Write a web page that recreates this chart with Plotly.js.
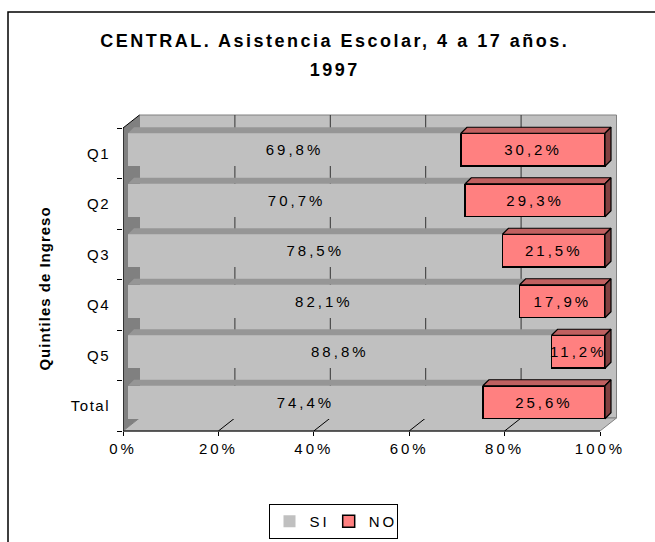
<!DOCTYPE html>
<html>
<head>
<meta charset="utf-8">
<script src="https://cdn.plot.ly/plotly-3.0.1.min.js"></script>
<style>
  html, body { margin: 0; padding: 0; background: #fff; }
  #chart { width: 655px; height: 542px; }
  #chart .g-gtitle text { letter-spacing: 2.5px; }
  /* wider line spacing between the two title lines (as in the original) */
  #chart .g-gtitle tspan.line:nth-child(2) { font-size: 22.3px; }
  #chart .xtick text { letter-spacing: 3px; }
  #chart .ytick text { letter-spacing: 1.5px; }
  #chart text.bartext { letter-spacing: 3px; }
  #chart .legendtext { letter-spacing: 3px; }
  #chart .g-ytitle text { letter-spacing: 1px; }
</style>
</head>
<body>
<div id="chart"></div>
<script>
// ---- data ----
const categories = ['Q1', 'Q2', 'Q3', 'Q4', 'Q5', 'Total'];
const siValues = [69.8, 70.7, 78.5, 82.1, 88.8, 74.4];
const noValues = [30.2, 29.3, 21.5, 17.9, 11.2, 25.6];
const xTickValues = [0, 20, 40, 60, 80, 100];
const xTickLabels = ['0%', '20%', '40%', '60%', '80%', '100%'];
const seriesNames = ['SI', 'NO'];
const titleLine1 = 'CENTRAL. Asistencia Escolar, 4 a 17 años.';
const titleLine2 = '1997';
const yTitle = 'Quintiles de Ingreso';

// ---- geometry (pixels) ----
const W = 655, H = 542;
const plotL = 123, plotR = 621, plotT = 112, plotB = 465; // plot area
const axisY = 431;                                        // front floor edge
const plotW = plotR - plotL, plotH = plotB - plotT;
const pxPerPct = 4.77, pxPerBand = 50.5;
const wallDX = 16.5, wallDY = 13;
const barShiftX = 5, barShiftY = 3.5;
const barDepthX = 6, barDepthY = 6;
const barWidth = 0.653;

const n = categories.length;
const idx = categories.map((c, i) => i);
const yBottom = n - 0.5;
const DX = wallDX / pxPerPct, DY = wallDY / pxPerBand;
const dx = barDepthX / pxPerPct, dy = barDepthY / pxPerBand;
const xMax = xTickValues[xTickValues.length - 1];

const xRange = [0, plotW / pxPerPct];
const yRange = [yBottom + (plotB - axisY) / pxPerBand, yBottom - (axisY - plotT) / pxPerBand];
const sx = barShiftX / pxPerPct, sy = barShiftY / pxPerBand;

const fmt = v => v.toFixed(1).replace('.', ',') + '%';

// top faces and side faces of the 3D bars
function topFaces(starts, ends) {
  const xs = [], ys = [];
  idx.forEach(i => {
    const yt = i - barWidth / 2;
    xs.push(starts[i], ends[i], ends[i] + dx, starts[i] + dx, starts[i], null);
    ys.push(yt, yt, yt - dy, yt - dy, yt, null);
  });
  return {xs, ys};
}
const siStart = idx.map(() => 0);
const siEnd = siValues.slice();
const noStart = siValues.slice();
const noEnd = idx.map(i => siValues[i] + noValues[i]);
const siTop = topFaces(siStart, siEnd);
const noTop = topFaces(noStart, noEnd);
const sideX = [], sideY = [];
idx.forEach(i => {
  const yt = i - barWidth / 2, yb = i + barWidth / 2, x1 = noEnd[i];
  sideX.push(x1, x1 + dx, x1 + dx, x1, x1, null);
  sideY.push(yt, yt - dy, yb - dy, yb, yt, null);
});

const traces = [
  {
    type: 'bar', orientation: 'h', name: seriesNames[0],
    x: siValues, y: idx, xaxis: 'x2', yaxis: 'y2',
    width: barWidth,
    marker: {color: '#c0c0c0', line: {width: 0}},
    text: siValues.map(fmt), texttemplate: '%{text}',
    textposition: 'inside', insidetextanchor: 'middle', textangle: 0,
    constraintext: 'none',
    textfont: {size: 15, color: '#000'},
    hoverinfo: 'skip'
  },
  {
    type: 'bar', orientation: 'h', name: seriesNames[1],
    x: noValues, y: idx, xaxis: 'x2', yaxis: 'y2',
    width: barWidth,
    marker: {color: '#ff8080', line: {width: 1.5, color: '#000'}},
    text: noValues.map(fmt), texttemplate: '%{text}',
    textposition: 'inside', insidetextanchor: 'middle', textangle: 0,
    constraintext: 'none',
    textfont: {size: 15, color: '#000'},
    hoverinfo: 'skip'
  },
  {
    type: 'scatter', mode: 'lines', x: siTop.xs, y: siTop.ys,
    xaxis: 'x2', yaxis: 'y2', fill: 'toself', fillcolor: '#969696',
    line: {width: 0, color: '#969696'}, showlegend: false, hoverinfo: 'skip'
  },
  {
    type: 'scatter', mode: 'lines', x: noTop.xs, y: noTop.ys,
    xaxis: 'x2', yaxis: 'y2', fill: 'toself', fillcolor: '#c06060',
    line: {width: 1.2, color: '#000'}, showlegend: false, hoverinfo: 'skip'
  },
  {
    type: 'scatter', mode: 'lines', x: sideX, y: sideY,
    xaxis: 'x2', yaxis: 'y2', fill: 'toself', fillcolor: '#804040',
    line: {width: 1.2, color: '#000'}, showlegend: false, hoverinfo: 'skip'
  }
];

// ---- 3D box decorations ----
const wallTop = -0.5 - DY, wallBot = yBottom - DY;
const shapes = [];
shapes.push({type: 'rect', xref: 'x', yref: 'y', layer: 'below',
  x0: DX, x1: xMax + DX, y0: wallTop, y1: wallBot,
  fillcolor: '#c0c0c0', line: {color: '#808080', width: 1}});
shapes.push({type: 'path', xref: 'x', yref: 'y', layer: 'below',
  path: `M0,${yBottom} L${xMax},${yBottom} L${xMax + DX},${wallBot} L${DX},${wallBot} Z`,
  fillcolor: '#c0c0c0', line: {color: '#808080', width: 1}});
xTickValues.slice(1, -1).forEach(v => {
  shapes.push({type: 'line', xref: 'x', yref: 'y', layer: 'below',
    x0: v + DX, x1: v + DX, y0: wallTop, y1: wallBot, line: {color: '#333', width: 1}});
  shapes.push({type: 'line', xref: 'x', yref: 'y', layer: 'below',
    x0: v, x1: v + DX, y0: yBottom, y1: wallBot, line: {color: '#000', width: 1}});
});
shapes.push({type: 'path', xref: 'x', yref: 'y', layer: 'below',
  path: `M0,-0.5 L${DX},${wallTop} L${DX},${wallBot} L0,${yBottom} Z`,
  fillcolor: '#808080', line: {width: 0}});
shapes.push({type: 'line', xref: 'x', yref: 'y', layer: 'below',
  x0: 0, x1: 0, y0: -0.5, y1: yBottom, line: {color: '#000', width: 1.2}});
shapes.push({type: 'line', xref: 'x', yref: 'y', layer: 'below',
  x0: 0, x1: DX, y0: -0.5, y1: wallTop, line: {color: '#000', width: 1}});
shapes.push({type: 'line', xref: 'x', yref: 'y', layer: 'below',
  x0: 0, x1: xMax, y0: yBottom, y1: yBottom, line: {color: '#000', width: 1.2}});
// outer frame
shapes.push({type: 'rect', xref: 'paper', yref: 'paper', layer: 'above',
  x0: (8 - plotL) / plotW, x1: (W + 6 - plotL) / plotW,
  y0: (plotB - (H + 6)) / plotH, y1: (plotB - 12) / plotH,
  line: {color: '#000', width: 1.5}, fillcolor: 'rgba(0,0,0,0)'});

const boundaries = [];
for (let i = 0; i <= n; i++) boundaries.push(i - 0.5);

const layout = {
  width: W, height: H,
  margin: {l: plotL, r: W - plotR, t: plotT, b: H - plotB, pad: 0},
  paper_bgcolor: '#fff', plot_bgcolor: 'rgba(0,0,0,0)',
  font: {family: '"Liberation Sans", Arial, sans-serif', color: '#000', size: 15},
  barmode: 'stack',
  showlegend: true,
  title: {
    text: titleLine1 + '<br><span style="font-size:18px">' + titleLine2 + '</span>',
    font: {size: 18, weight: 'bold', color: '#000'},
    x: 0.511, xref: 'container', xanchor: 'center',
    y: 1 - 47 / H, yref: 'container', yanchor: 'top'
  },
  xaxis: {
    range: xRange, tickvals: xTickValues, ticktext: xTickLabels,
    anchor: 'free', position: (plotB - axisY) / plotH,
    ticks: 'outside', ticklen: 4, tickcolor: '#000', tickwidth: 1,
    showgrid: false, zeroline: false, showline: false, fixedrange: true,
    tickfont: {size: 15}
  },
  yaxis: {
    range: yRange,
    tickvals: idx, ticktext: categories, ticks: '',
    ticklabelstandoff: 12,
    minor: {tickmode: 'array', tickvals: boundaries, ticks: 'outside', ticklen: 5, tickcolor: '#000', showgrid: false},
    showgrid: false, zeroline: false, showline: false, fixedrange: true,
    tickfont: {size: 15},
    title: {text: yTitle, font: {size: 15, weight: 'bold'}, standoff: 24}
  },
  xaxis2: {range: [xRange[0] - sx, xRange[1] - sx], anchor: 'y2', visible: false, fixedrange: true},
  yaxis2: {range: [yRange[0] + sy, yRange[1] + sy], anchor: 'x2', visible: false, fixedrange: true},
  legend: {
    orientation: 'h', traceorder: 'normal',
    xref: 'container', yref: 'container',
    x: 333 / W, xanchor: 'center', y: 1 - 504 / H, yanchor: 'top',
    bordercolor: '#000', borderwidth: 1, bgcolor: '#fff',
    font: {size: 15}
  },
  shapes: shapes
};

Plotly.newPlot('chart', traces, layout, {displayModeBar: false, staticPlot: true});
</script>
</body>
</html>
